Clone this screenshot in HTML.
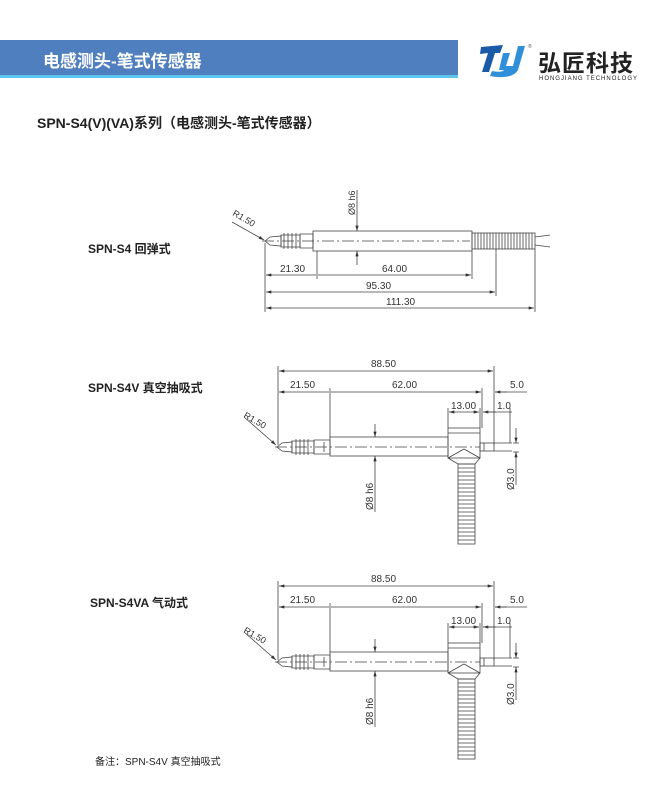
<!DOCTYPE html>
<html><head><meta charset="utf-8"><style>
body{margin:0;width:651px;height:793px;background:#fff;overflow:hidden;font-family:"Liberation Sans","Noto Sans CJK SC",sans-serif}
</style></head><body>
<svg width="651" height="793" viewBox="0 0 651 793" xmlns="http://www.w3.org/2000/svg" font-family="Liberation Sans, Noto Sans CJK SC, sans-serif">
<defs>
<marker id="a" viewBox="0 0 10 6" refX="10" refY="3" markerWidth="8" markerHeight="4" orient="auto-start-reverse"><path d="M0,0L10,3L0,6z" fill="#333"/></marker>
</defs>
<!-- header -->
<rect x="0" y="40" width="458" height="35" fill="#4f7fbf"/>
<rect x="0" y="75" width="458" height="3" fill="#5cc6ee"/>
<text x="43" y="67" font-size="17" font-weight="bold" fill="#fff">电感测头-笔式传感器</text>
<path d="M481,47 L503,45 L500,53 L495,53 L489,72 L482,72 L488,53 L480,54z" fill="#1b5aa8"/>
<path d="M503,53 L510,53 L506,66 L513,66 L518,46 L525,46 L518,70 Q512,80 490,76 L492,71 Q502,73 504,70 L499,70z" fill="#2f8fd8"/>
<text x="528" y="48" font-size="5" fill="#555">®</text>
<text x="538" y="71" font-size="23" font-weight="bold" fill="#222" letter-spacing="1">弘匠科技</text>
<text x="539" y="80" font-size="6" fill="#222" textLength="98">HONGJIANG TECHNOLOGY</text>
<text x="37" y="128" font-size="14" font-weight="bold" fill="#222">SPN-S4(V)(VA)系列（电感测头-笔式传感器）</text>
<text x="88" y="253" font-size="12" font-weight="bold" fill="#222">SPN-S4 回弹式</text>
<text x="88" y="392" font-size="12" font-weight="bold" fill="#222">SPN-S4V 真空抽吸式</text>
<text x="90" y="607" font-size="12" font-weight="bold" fill="#222">SPN-S4VA 气动式</text>
<text x="95" y="765" font-size="10" fill="#222">备注：SPN-S4V 真空抽吸式</text>

<!-- drawing 1 -->
<g stroke="#444" stroke-width="0.8" fill="none">
<path d="M265,241 L270,237 L281,236 L281,246 L270,245z"/>
<path d="M281,235 h19 v12 h-19z"/>
<path d="M284,233 v16 M288,233 v16 M292,233 v16 M296,233 v16"/>
<path d="M300,234 h13 v14 h-13z"/>
<rect x="313" y="231" width="159" height="20"/>
<rect x="472" y="233" width="63" height="16"/>
<path d="M475,233 v16 M478,233 v16 M481,233 v16 M484,233 v16 M487,233 v16 M490,233 v16 M493,233 v16 M496,233 v16 M499,233 v16 M502,233 v16 M505,233 v16 M508,233 v16 M511,233 v16 M514,233 v16 M517,233 v16 M520,233 v16 M523,233 v16 M526,233 v16 M529,233 v16 M532,233 v16"/>
<path d="M535,237 L550,235 M535,245 L550,247"/>
<path d="M262,241 H470" stroke-dasharray="12,3,2,3"/>
<path d="M265,243 V312 M317,251 V279 M472,251 V279 M496,249 V296 M535,249 V312"/>
<path d="M266,275 H316 M318,275 H471" marker-start="url(#a)" marker-end="url(#a)"/>
<path d="M266,292 H495" marker-start="url(#a)" marker-end="url(#a)"/>
<path d="M266,308 H534" marker-start="url(#a)" marker-end="url(#a)"/>
<path d="M357,190 V231" marker-end="url(#a)"/>
<path d="M357,265 V251" marker-end="url(#a)"/>
<path d="M232,222 L264,240" marker-end="url(#a)"/>
</g>
<g font-size="10" fill="#333">
<text x="280" y="272">21.30</text><text x="382" y="272">64.00</text>
<text x="366" y="289">95.30</text><text x="386" y="305">111.30</text>
<text transform="translate(355,215) rotate(-90)" font-size="9">Ø8 h6</text>
<text transform="translate(232,215) rotate(30)" font-size="9">R1.50</text>
</g>

<!-- drawing 2 & 3 -->
<g id="d2">
<g stroke="#444" stroke-width="0.8" fill="none">
<path d="M277,447 L282,443 L292,442 L292,452 L282,451z"/>
<path d="M292,441 h22 v12 h-22z"/>
<path d="M296,439 v16 M300,439 v16 M304,439 v16 M308,439 v16"/>
<path d="M314,440 h16 v14 h-16z M324,442 v10"/>
<rect x="330" y="437" width="118" height="19"/>
<rect x="448" y="428" width="32" height="30"/>
<path d="M448,433 H480 M448,458 L458,464 H475 L480,458 M464,449 L448,458 M464,449 L480,458"/>
<rect x="458" y="464" width="17" height="80"/>
<path d="M458,468 h17 M458,472 h17 M458,476 h17 M458,480 h17 M458,484 h17 M458,488 h17 M458,492 h17 M458,496 h17 M458,500 h17 M458,504 h17 M458,508 h17 M458,512 h17 M458,516 h17 M458,520 h17 M458,524 h17 M458,528 h17 M458,532 h17 M458,536 h17 M458,540 h17"/>
<rect x="480" y="443" width="14" height="8"/>
<path d="M484,443 v8 M494,451 H512 M494,443 H512"/>
<path d="M275,447 H480" stroke-dasharray="12,3,2,3"/>
<path d="M278,366 V445 M330,388 V437 M482,388 V428 M494,366 V445 M448,408 V428 M480,408 V428 M510,408 V443 M513,443 h6 M513,452 h6"/>
<path d="M279,371 H493" marker-start="url(#a)" marker-end="url(#a)"/>
<path d="M279,392 H329 M331,392 H481" marker-start="url(#a)" marker-end="url(#a)"/>
<path d="M507,392 H495" marker-end="url(#a)"/><path d="M495,392 H527"/>
<path d="M449,412 H479" marker-start="url(#a)" marker-end="url(#a)"/>
<path d="M496,412 H483" marker-end="url(#a)"/><path d="M483,412 H512"/>
<path d="M516,428 V443" marker-end="url(#a)"/>
<path d="M516,466 V452" marker-end="url(#a)"/><path d="M516,466 V485"/>
<path d="M375,424 V437" marker-end="url(#a)"/>
<path d="M375,512 V456" marker-end="url(#a)"/>
<path d="M244,417 L276,445" marker-end="url(#a)"/>
</g>
<g font-size="10" fill="#333">
<text x="371" y="367">88.50</text>
<text x="290" y="388">21.50</text><text x="392" y="388">62.00</text>
<text x="510" y="388">5.0</text><text x="451" y="409">13.00</text><text x="497" y="409">1.0</text>
<text transform="translate(514,490) rotate(-90)">Ø3.0</text>
<text transform="translate(373,510) rotate(-90)">Ø8 h6</text>
<text transform="translate(243,417) rotate(30)" font-size="9">R1.50</text>
</g>
</g>
<use href="#d2" transform="translate(0,215)"/>
</svg>
</body></html>
